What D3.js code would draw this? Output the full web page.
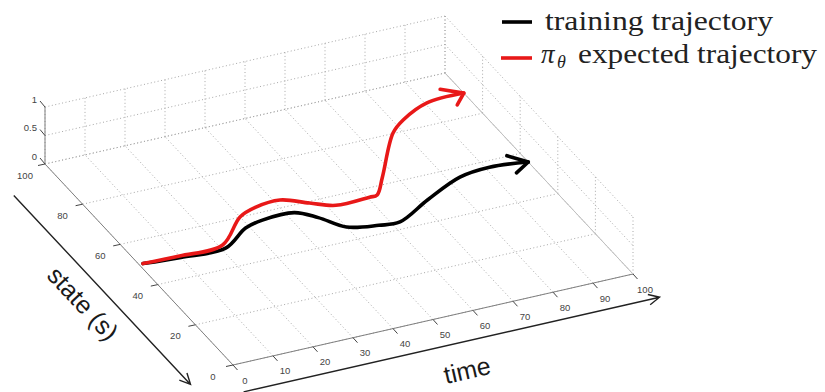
<!DOCTYPE html>
<html>
<head>
<meta charset="utf-8">
<script src="https://cdn.jsdelivr.net/npm/d3@7"></script>
<style>
  body { margin: 0; background: #fff; }
</style>
</head>
<body>
<svg id="chart" width="825" height="392"></svg>
<script>
const timeTicks = [0, 10, 20, 30, 40, 50, 60, 70, 80, 90, 100];
const stateTicks = [0, 20, 40, 60, 80, 100];
const zTicks = [0, 0.5, 1];

// training trajectory (black)
const trainTime  = [1, 10, 21, 29, 34, 42, 46, 50, 57, 62, 72, 83, 91, 100];
const trainState = [50, 49, 48.6, 55, 56.7, 56.8, 52.5, 46, 43.7, 43.1, 49.6, 55.9, 57.2, 55.7];

// pi_theta expected trajectory (red)
const policyTime  = [1, 10, 21, 30, 35, 41.5, 47, 52, 60.5, 62.5, 67, 77.7, 82.3, 90.5, 100];
const policyState = [50, 49.7, 50.2, 60.1, 62.6, 63.3, 59.3, 55.9, 56.1, 56.3, 63.1, 80.2, 84.6, 89.4, 90];

const legendLabels = ['training trajectory', 'expected trajectory'];

const svg = d3.select('#chart');

// oblique view: every axis is a linear scale giving a screen offset
const origin = [233, 365];
const timeX = d3.scaleLinear().domain([0, 100]).range([0, 400]);
const timeY = d3.scaleLinear().domain([0, 100]).range([0, -91]);
const stateX = d3.scaleLinear().domain([0, 100]).range([0, -188]);
const stateY = d3.scaleLinear().domain([0, 100]).range([0, -201]);
const zY = d3.scaleLinear().domain([0, 1]).range([0, -57]);

function proj(t, s, z) {
  z = z || 0;
  return [origin[0] + timeX(t) + stateX(s), origin[1] + timeY(t) + stateY(s) + zY(z)];
}

const line = d3.line();
const gridColor = '#a8a8a8';

function seg(g, a, b, cls) {
  return g.append('path').attr('class', cls).attr('d', line([a, b]));
}

// grid
const grid = svg.append('g')
  .attr('fill', 'none')
  .attr('stroke', gridColor)
  .attr('stroke-width', 1)
  .attr('stroke-dasharray', '1,2.5');

timeTicks.forEach(t => {
  seg(grid, proj(t, 0, 0), proj(t, 100, 0), 'floor-t');
  seg(grid, proj(t, 100, 0), proj(t, 100, 1), 'back-t');
});
stateTicks.forEach(s => {
  seg(grid, proj(0, s, 0), proj(100, s, 0), 'floor-s');
  seg(grid, proj(100, s, 0), proj(100, s, 1), 'side-s');
});
zTicks.forEach(z => {
  seg(grid, proj(0, 100, z), proj(100, 100, z), 'back-z');
  seg(grid, proj(100, 100, z), proj(100, 0, z), 'side-z');
});

// axis lines
const axes = svg.append('g').attr('fill', 'none').attr('stroke', '#808080').attr('stroke-width', 1);
seg(axes, proj(0, 0, 0), proj(100, 0, 0), 'time-axis');
seg(axes, proj(0, 0, 0), proj(0, 100, 0), 'state-axis');
seg(axes, proj(0, 100, 0), proj(0, 100, 1), 'z-axis');
seg(axes, proj(100, 100, 0), proj(100, 0, 0), 'edge').attr('stroke', '#c0c0c0');

// ticks and labels
const ticks = svg.append('g').attr('stroke', '#444').attr('stroke-width', 1);
const labels = svg.append('g')
  .attr('font-family', 'Liberation Sans, Arial, sans-serif')
  .attr('font-size', 9.5)
  .attr('fill', '#444');

timeTicks.forEach(t => {
  const p = proj(t, 0, 0);
  ticks.append('path').attr('d', line([p, [p[0] + 4.5, p[1] + 5]]));
  labels.append('text')
    .attr('x', p[0] + 12).attr('y', p[1] + 15)
    .attr('text-anchor', 'middle').attr('dominant-baseline', 'central')
    .text(t);
});
stateTicks.forEach(s => {
  const p = proj(0, s, 0);
  ticks.append('path').attr('d', line([p, [p[0] - 7, p[1] + 1.5]]));
  labels.append('text')
    .attr('x', p[0] - 20).attr('y', p[1] + 11)
    .attr('text-anchor', 'middle').attr('dominant-baseline', 'central')
    .text(s);
});
zTicks.forEach(z => {
  const p = proj(0, 100, z);
  ticks.append('path').attr('d', line([p, [p[0] - 5, p[1] - 6]]));
  labels.append('text')
    .attr('x', p[0] - 8).attr('y', p[1] - 8)
    .attr('text-anchor', 'end').attr('dominant-baseline', 'central')
    .text(z);
});

// trajectories with arrowheads lying in the floor plane
const curve = d3.line().curve(d3.curveCatmullRom.alpha(0.5));

function trajectory(times, states, color) {
  const pts = times.map((t, i) => proj(t, states[i], 0));
  svg.append('path')
    .attr('d', curve(pts))
    .attr('fill', 'none')
    .attr('stroke', color)
    .attr('stroke-width', 3.6)
    .attr('stroke-linecap', 'round')
    .attr('stroke-linejoin', 'round');

  const n = times.length;
  const dt = times[n - 1] - times[n - 2], ds = states[n - 1] - states[n - 2];
  const ang = Math.atan2(ds, dt);
  const len = 5.6;
  const head = [ang + Math.PI - 0.8, ang + Math.PI + 0.8].map(a =>
    proj(times[n - 1] + len * Math.cos(a), states[n - 1] + len * Math.sin(a), 0));
  svg.append('path')
    .attr('d', line([head[0], proj(times[n - 1], states[n - 1], 0), head[1]]))
    .attr('fill', 'none')
    .attr('stroke', color)
    .attr('stroke-width', 3.6)
    .attr('stroke-linecap', 'round')
    .attr('stroke-linejoin', 'round');
}
trajectory(trainTime, trainState, '#000');
trajectory(policyTime, policyState, '#e81818');

// big annotation arrows beside the axes
function bigArrow(a, b) {
  const ang = Math.atan2(b[1] - a[1], b[0] - a[0]);
  const h = 12;
  svg.append('path')
    .attr('d', line([a, b]) + line([
      [b[0] - h * Math.cos(ang - 0.45), b[1] - h * Math.sin(ang - 0.45)],
      b,
      [b[0] - h * Math.cos(ang + 0.45), b[1] - h * Math.sin(ang + 0.45)]
    ]))
    .attr('fill', 'none')
    .attr('stroke', '#222')
    .attr('stroke-width', 1.4);
}
bigArrow(proj(-12.5, 90), proj(-12.5, -4));
bigArrow(proj(-3, -12), proj(101, -12));

const stateAng = Math.atan2(-stateY(100), -stateX(100)) * 180 / Math.PI;
const timeAng = Math.atan2(timeY(100), timeX(100)) * 180 / Math.PI;
const sp = proj(-19, 39.3);
svg.append('text')
  .attr('transform', `translate(${sp[0]},${sp[1]}) rotate(${stateAng})`)
  .attr('text-anchor', 'middle').attr('dominant-baseline', 'central')
  .attr('font-family', 'Liberation Sans, Arial, sans-serif')
  .attr('font-size', 25).attr('fill', '#1a1a1a')
  .text('state (s)');
const tp = proj(47.3, -23.9);
svg.append('text')
  .attr('transform', `translate(${tp[0]},${tp[1]}) rotate(${timeAng})`)
  .attr('text-anchor', 'middle').attr('dominant-baseline', 'central')
  .attr('font-family', 'Liberation Sans, Arial, sans-serif')
  .attr('font-size', 25).attr('fill', '#1a1a1a')
  .text('time');

// legend
const legend = svg.append('g').attr('font-family', 'Liberation Serif, Times New Roman, serif').attr('fill', '#222');
legend.append('path').attr('d', line([[502, 22], [532, 22]])).attr('stroke', '#000').attr('stroke-width', 3.6);
legend.append('path').attr('d', line([[501, 58], [532, 58]])).attr('stroke', '#e81818').attr('stroke-width', 3.6);
legend.append('text')
  .attr('x', 545).attr('y', 30)
  .attr('font-size', 27)
  .attr('textLength', 228).attr('lengthAdjust', 'spacingAndGlyphs')
  .text(legendLabels[0]);
legend.append('text')
  .attr('x', 541).attr('y', 63)
  .attr('font-size', 27).attr('font-style', 'italic')
  .text('π');
legend.append('text')
  .attr('x', 557).attr('y', 68)
  .attr('font-size', 18).attr('font-style', 'italic')
  .text('θ');
legend.append('text')
  .attr('x', 578).attr('y', 63)
  .attr('font-size', 27)
  .attr('textLength', 239).attr('lengthAdjust', 'spacingAndGlyphs')
  .text(legendLabels[1]);
</script>
</body>
</html>
